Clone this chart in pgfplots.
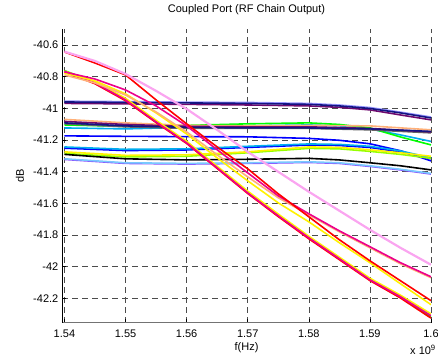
\documentclass[border=0pt]{standalone}
\usepackage{pgfplots}
\pgfplotsset{compat=1.18}
\usepackage{fontspec}
\setmainfont{Liberation Sans}
\definecolor{navyc}{RGB}{20,20,130}
\definecolor{purpc}{RGB}{110,10,110}
\definecolor{lavc}{RGB}{150,150,255}
\definecolor{peach}{RGB}{255,176,120}
\definecolor{grayc}{RGB}{100,100,100}
\definecolor{chart}{RGB}{150,255,0}
\definecolor{lblue}{RGB}{120,200,255}
\definecolor{mpurp}{RGB}{140,80,255}
\definecolor{pinkc}{RGB}{250,165,240}
\begin{document}
\fontsize{11bp}{13bp}\selectfont
\begin{tikzpicture}
\useasboundingbox (0,0) rectangle (438bp,356bp);
\begin{axis}[
  at={(62bp,33.3bp)}, anchor=south west,
  scale only axis, width=369bp, height=293.4bp,
  xmin=1.5396, xmax=1.6, ymin=-42.354, ymax=-40.501,
  axis lines=left,
  axis line style={-},
  x axis line style={draw=black!55, line width=0.9bp},
  y axis line style={draw=black, line width=0.7bp},
  scaled ticks=false,
  xtick={1.54,1.55,1.56,1.57,1.58,1.59,1.6},
  xticklabels={1.54,1.55,1.56,1.57,1.58,1.59,1.6},
  ytick={-42.2,-42,-41.8,-41.6,-41.4,-41.2,-41,-40.8,-40.6},
  yticklabels={-42.2,-42,-41.8,-41.6,-41.4,-41.2,-41,-40.8,-40.6},
  tick align=inside, major tick length=4bp,
  tick style={black, line width=0.6bp},
  xticklabel style={anchor=base, yshift=-15bp, font=\fontsize{11bp}{13bp}\selectfont},
  yticklabel style={anchor=east, inner sep=0pt, xshift=-3.5bp, font=\fontsize{11bp}{13bp}\selectfont},
  grid=major,
  major grid style={dash pattern=on 6bp off 4bp, draw=black!70, line width=0.6bp},
  title={Coupled Port (RF Chain Output)},
  title style={at={(axis description cs:0.5,1)}, anchor=base, yshift=11bp, font=\fontsize{11bp}{13bp}\selectfont},
  xlabel={f(Hz)},
  xlabel style={at={(axis description cs:0.5,0)}, anchor=center, yshift=-24.8bp, font=\fontsize{11bp}{13bp}\selectfont},
  ylabel={dB},
  ylabel style={at={(axis description cs:-0.114,0.5)}, anchor=center, rotate=0, font=\fontsize{11bp}{13bp}\selectfont},
  every axis plot/.append style={line width=1.6bp},
]
% ---- flat top group
\addplot[lavc] coordinates {(1.54,-40.955) (1.55,-40.958) (1.56,-40.961) (1.57,-40.963) (1.58,-40.969) (1.585,-40.979) (1.59,-40.995) (1.595,-41.024) (1.6,-41.055)};
\addplot[purpc] coordinates {(1.54,-40.969) (1.55,-40.972) (1.56,-40.975) (1.57,-40.979) (1.58,-40.985) (1.585,-40.994) (1.59,-41.010) (1.595,-41.042) (1.6,-41.073)};
\addplot[navyc] coordinates {(1.54,-40.960) (1.55,-40.963) (1.56,-40.966) (1.57,-40.969) (1.58,-40.975) (1.585,-40.985) (1.59,-41.001) (1.595,-41.029) (1.6,-41.061)};
% ---- middle group
\addplot[cyan] coordinates {(1.54,-41.124) (1.55,-41.130) (1.56,-41.120) (1.57,-41.111) (1.58,-41.105) (1.585,-41.111) (1.59,-41.130) (1.595,-41.168) (1.6,-41.209)};
\addplot[green] coordinates {(1.54,-41.105) (1.55,-41.114) (1.56,-41.108) (1.57,-41.098) (1.58,-41.092) (1.585,-41.102) (1.59,-41.124) (1.595,-41.181) (1.6,-41.231)};
\addplot[peach] coordinates {(1.54,-41.070) (1.55,-41.092) (1.56,-41.108) (1.57,-41.111) (1.58,-41.108) (1.59,-41.111) (1.6,-41.136)};
\addplot[grayc] coordinates {(1.54,-41.098) (1.55,-41.117) (1.56,-41.127) (1.57,-41.127) (1.58,-41.127) (1.59,-41.136) (1.6,-41.155)};
\addplot[purpc] coordinates {(1.54,-41.083) (1.55,-41.102) (1.56,-41.114) (1.57,-41.117) (1.58,-41.117) (1.59,-41.127) (1.6,-41.149)};
\addplot[navyc] coordinates {(1.54,-41.092) (1.55,-41.111) (1.56,-41.120) (1.57,-41.124) (1.58,-41.124) (1.59,-41.130) (1.6,-41.146)};
% ---- blue
\addplot[blue] coordinates {(1.54,-41.174) (1.55,-41.177) (1.56,-41.179) (1.57,-41.180) (1.58,-41.190) (1.585,-41.202) (1.59,-41.224) (1.595,-41.268) (1.6,-41.332)};
% ---- lower flat group
\addplot[blue] coordinates {(1.54,-41.252) (1.55,-41.267) (1.56,-41.263) (1.57,-41.247) (1.58,-41.232) (1.585,-41.235) (1.59,-41.247) (1.595,-41.276) (1.6,-41.318)};
\addplot[cyan] coordinates {(1.54,-41.244) (1.55,-41.259) (1.56,-41.256) (1.57,-41.240) (1.58,-41.225) (1.585,-41.228) (1.59,-41.240) (1.595,-41.269) (1.6,-41.313)};
\addplot[chart] coordinates {(1.54,-41.285) (1.55,-41.307) (1.56,-41.303) (1.57,-41.281) (1.58,-41.253) (1.585,-41.256) (1.59,-41.272) (1.595,-41.291) (1.6,-41.316)};
\addplot[yellow] coordinates {(1.54,-41.275) (1.55,-41.297) (1.56,-41.294) (1.57,-41.275) (1.58,-41.244) (1.585,-41.247) (1.59,-41.262) (1.595,-41.281) (1.6,-41.303)};
\addplot[mpurp] coordinates {(1.54,-41.323) (1.55,-41.348) (1.56,-41.352) (1.57,-41.348) (1.58,-41.342) (1.585,-41.348) (1.59,-41.367) (1.595,-41.389) (1.6,-41.415)};
\addplot[lblue] coordinates {(1.54,-41.319) (1.55,-41.344) (1.56,-41.348) (1.57,-41.344) (1.58,-41.338) (1.585,-41.344) (1.59,-41.363) (1.595,-41.385) (1.6,-41.411)};
\addplot[black] coordinates {(1.54,-41.291) (1.55,-41.319) (1.56,-41.326) (1.57,-41.322) (1.58,-41.316) (1.585,-41.326) (1.59,-41.344) (1.595,-41.363) (1.6,-41.389)};
% ---- descending lines
\addplot[green] coordinates {(1.54,-40.762) (1.545,-40.836) (1.55,-40.943) (1.555,-41.082) (1.56,-41.214) (1.565,-41.372) (1.57,-41.530) (1.575,-41.676) (1.58,-41.816) (1.585,-41.946) (1.59,-42.080) (1.595,-42.190) (1.6,-42.318)};
\addplot[red] coordinates {(1.54,-40.770) (1.545,-40.845) (1.55,-40.952) (1.555,-41.090) (1.56,-41.222) (1.565,-41.380) (1.57,-41.538) (1.575,-41.684) (1.58,-41.824) (1.585,-41.956) (1.59,-42.088) (1.595,-42.198) (1.6,-42.325)};
\addplot[yellow] coordinates {(1.54,-40.765) (1.545,-40.832) (1.55,-40.937) (1.555,-41.076) (1.56,-41.208) (1.565,-41.366) (1.57,-41.523) (1.575,-41.668) (1.58,-41.808) (1.585,-41.940) (1.59,-42.073) (1.595,-42.180) (1.6,-42.298)};
\addplot[magenta] coordinates {(1.54,-40.767) (1.545,-40.840) (1.55,-40.947) (1.555,-41.086) (1.56,-41.218) (1.565,-41.376) (1.57,-41.534) (1.575,-41.679) (1.58,-41.818) (1.585,-41.950) (1.59,-42.083) (1.595,-42.190) (1.6,-42.310)};
\addplot[yellow] coordinates {(1.54,-40.777) (1.545,-40.827) (1.55,-40.909) (1.555,-41.029) (1.56,-41.162) (1.565,-41.313) (1.57,-41.458) (1.575,-41.597) (1.58,-41.717) (1.585,-41.849) (1.59,-41.975) (1.595,-42.108) (1.6,-42.240)};
\addplot[peach] coordinates {(1.54,-40.789) (1.545,-40.840) (1.55,-40.916) (1.555,-41.023) (1.56,-41.149) (1.565,-41.294) (1.57,-41.433) (1.575,-41.565) (1.58,-41.673) (1.585,-41.780) (1.59,-41.881) (1.595,-41.982) (1.6,-42.070)};
\addplot[magenta] coordinates {(1.54,-40.770) (1.545,-40.815) (1.55,-40.884) (1.555,-40.985) (1.56,-41.111) (1.565,-41.262) (1.57,-41.408) (1.575,-41.553) (1.58,-41.666) (1.585,-41.774) (1.59,-41.874) (1.595,-41.975) (1.6,-42.064)};
\addplot[red] coordinates {(1.54,-40.644) (1.545,-40.714) (1.55,-40.789) (1.555,-40.947) (1.56,-41.098) (1.565,-41.244) (1.57,-41.382) (1.575,-41.540) (1.58,-41.685) (1.585,-41.830) (1.59,-41.963) (1.595,-42.089) (1.6,-42.215)};
\addplot[pinkc, line width=2.2bp] coordinates {(1.54,-40.642) (1.545,-40.701) (1.55,-40.783) (1.555,-40.890) (1.56,-41.004) (1.565,-41.136) (1.57,-41.275) (1.575,-41.401) (1.58,-41.527) (1.585,-41.647) (1.59,-41.767) (1.595,-41.881) (1.6,-41.988)};
\end{axis}
\node[anchor=base west, inner sep=0pt] at (410bp,1.5bp) {x 10\textsuperscript{9}};
\end{tikzpicture}
\end{document}
